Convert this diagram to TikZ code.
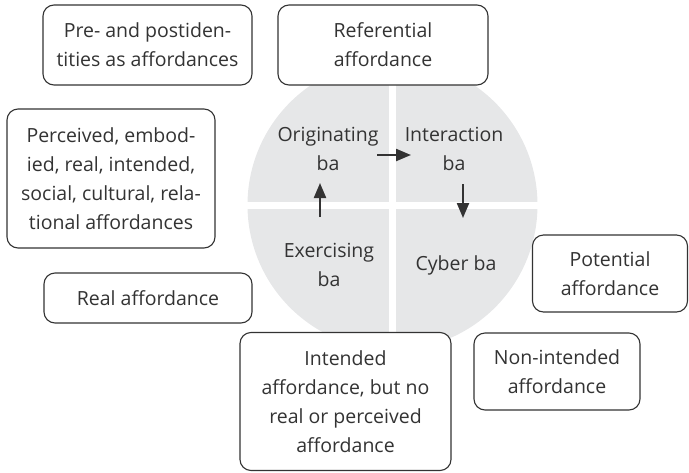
\documentclass[tikz,border=0pt]{standalone}
\usepackage{fontspec}
\setmainfont{Open Sans}
\usetikzlibrary{arrows.meta}
\definecolor{discgray}{HTML}{E6E7E8}
\definecolor{inkgray}{HTML}{333333}
\tikzset{
  aff/.style={draw=inkgray, line width=1.1pt, rounded corners=11pt, fill=white,
    align=center, inner sep=0pt, text=inkgray},
  ba/.style={align=center, inner sep=0pt, text=inkgray},
  flow/.style={draw=inkgray, line width=2.2pt, -{Triangle[length=15pt,width=12pt]}},
}

\begin{document}
\begin{tikzpicture}[x=1pt, y=-1pt, font=\fontsize{19.5}{29}\selectfont]
        \useasboundingbox (0,0) rectangle (689,472);
        % the four ba
        \node (disc) [circle, fill=discgray, minimum size=290pt, inner sep=0pt] at (392.5,205) {};
        \draw [white, line width=7pt] (disc.west) -- (disc.east) (disc.north) -- (disc.south);
        \node (orig) [ba] at (328,149) {Originating\\ba};
        \node (inter) [ba] at (454,149) {Interaction\\ba};
        \node (exer) [ba] at (329,265) {Exercising\\ba};
        \node (cyber) [ba] at (456,265) {Cyber ba};
        \draw [flow] ([shift={(49,6)}]orig.center) -- ([shift={(-43,6)}]inter.center);
        \draw [flow] ([shift={(9,35)}]inter.center) -- ([shift={(7,-47)}]cyber.center);
        \draw [flow] ([shift={(-9,-48)}]exer.center) -- ([shift={(-8,34)}]orig.center);
        % affordances
        \node (preid) [aff, minimum width=209pt, minimum height=80pt] at (147.5,45) {Pre- and postiden-\\tities as affordances};
        \node (refer) [aff, minimum width=210pt, minimum height=80pt] at (383,45) {Referential\\affordance};
        \node (perc) [aff, minimum width=208pt, minimum height=139pt] at (111,178.5) {Perceived, embod-\\ied, real, intended,\\social, cultural, rela-\\tional affordances};
        \node (real) [aff, minimum width=208pt, minimum height=50pt] at (148,298) {Real affordance};
        \node (poten) [aff, minimum width=155pt, minimum height=77pt] at (610,273.5) {Potential\\affordance};
        \node (nonint) [aff, minimum width=166pt, minimum height=77pt] at (557,371.5) {Non-intended\\affordance};
        \node (intend) [aff, minimum width=211pt, minimum height=138pt] at (345.5,401.5) {Intended\\affordance, but no\\real or perceived\\affordance};
\end{tikzpicture}
\end{document}
